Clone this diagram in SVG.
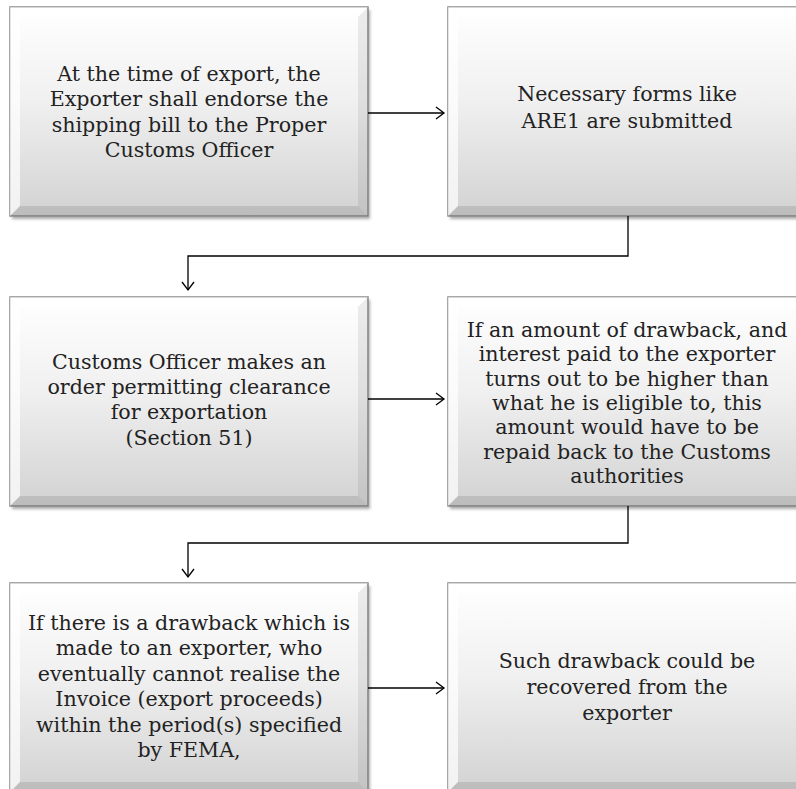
<svg xmlns="http://www.w3.org/2000/svg" width="796" height="789" viewBox="0 0 796 789">
<defs>
<linearGradient id="face" x1="0" y1="0" x2="0" y2="1">
<stop offset="0" stop-color="#ffffff"/>
<stop offset="0.45" stop-color="#f0f0f0"/>
<stop offset="1" stop-color="#d2d2d2"/>
</linearGradient>
<filter id="sh" x="-5%" y="-5%" width="115%" height="115%">
<feGaussianBlur stdDeviation="1.5"/>
</filter>
<marker id="arr" markerWidth="12" markerHeight="14" refX="9" refY="7" orient="auto" markerUnits="userSpaceOnUse">
<path d="M1,1 L9,7 L1,13" fill="none" stroke="#000" stroke-width="1.3"/>
</marker>
<g id="bevel">
<rect x="0" y="0" width="358" height="209" fill="url(#face)" stroke="#8a8a8a" stroke-width="1.5"/>
<polygon points="0,0 358,0 348,10 10,10" fill="#fff" opacity="0.55"/>
<polygon points="0,0 10,10 10,199 0,209" fill="#fff" opacity="0.7"/>
<polygon points="358,0 358,209 348,199 348,10" fill="#000" opacity="0.07"/>
<polygon points="0,209 10,199 348,199 358,209" fill="#000" opacity="0.1"/>
</g>
</defs>
<style>
text { font-family: "DejaVu Serif", "Liberation Serif", serif; font-size: 20.6px; fill: #222; text-anchor: middle; }
.shadow { fill: #555; opacity: 0.5; filter: url(#sh); }
.conn { fill: none; stroke: #000; stroke-width: 1.3; }
</style>
<rect width="796" height="789" fill="#fff"/>

<g id="node1">
<rect class="shadow" x="12" y="10" width="358" height="209"/>
<use href="#bevel" x="10" y="7"/>
<text x="189"><tspan x="189" y="81">At the time of export, the</tspan><tspan x="189" y="106">Exporter shall endorse the</tspan><tspan x="189" y="132">shipping bill to the Proper</tspan><tspan x="189" y="157">Customs Officer</tspan></text>
</g>

<g id="node2">
<rect class="shadow" x="450" y="10" width="358" height="209"/>
<use href="#bevel" x="448" y="7"/>
<text x="627"><tspan x="627" y="101">Necessary forms like</tspan><tspan x="627" y="128">ARE1 are submitted</tspan></text>
</g>

<g id="node3">
<rect class="shadow" x="12" y="300" width="358" height="209"/>
<use href="#bevel" x="10" y="297"/>
<text x="189"><tspan x="189" y="369">Customs Officer makes an</tspan><tspan x="189" y="394">order permitting clearance</tspan><tspan x="189" y="419">for exportation</tspan><tspan x="189" y="445">(Section 51)</tspan></text>
</g>

<g id="node4">
<rect class="shadow" x="450" y="300" width="358" height="209"/>
<use href="#bevel" x="448" y="297"/>
<text x="627"><tspan x="627" y="337">If an amount of drawback, and</tspan><tspan x="627" y="361">interest paid to the exporter</tspan><tspan x="627" y="386">turns out to be higher than</tspan><tspan x="627" y="410">what he is eligible to, this</tspan><tspan x="627" y="434">amount would have to be</tspan><tspan x="627" y="459">repaid back to the Customs</tspan><tspan x="627" y="483">authorities</tspan></text>
</g>

<g id="node5">
<rect class="shadow" x="12" y="586" width="358" height="209"/>
<use href="#bevel" x="10" y="583"/>
<text x="189"><tspan x="189" y="630">If there is a drawback which is</tspan><tspan x="189" y="655">made to an exporter, who</tspan><tspan x="189" y="681">eventually cannot realise the</tspan><tspan x="189" y="706">Invoice (export proceeds)</tspan><tspan x="189" y="732">within the period(s) specified</tspan><tspan x="189" y="757">by FEMA,</tspan></text>
</g>

<g id="node6">
<rect class="shadow" x="450" y="586" width="358" height="209"/>
<use href="#bevel" x="448" y="583"/>
<text x="627"><tspan x="627" y="668">Such drawback could be</tspan><tspan x="627" y="694">recovered from the</tspan><tspan x="627" y="720">exporter</tspan></text>
</g>

<g id="connectors">
<path class="conn" d="M368,113 H444" marker-end="url(#arr)"/>
<path class="conn" d="M628,216 V256 H188 V290" marker-end="url(#arr)"/>
<path class="conn" d="M368,399 H444" marker-end="url(#arr)"/>
<path class="conn" d="M628,506 V543 H188 V577" marker-end="url(#arr)"/>
<path class="conn" d="M368,688 H444" marker-end="url(#arr)"/>
</g>
</svg>
